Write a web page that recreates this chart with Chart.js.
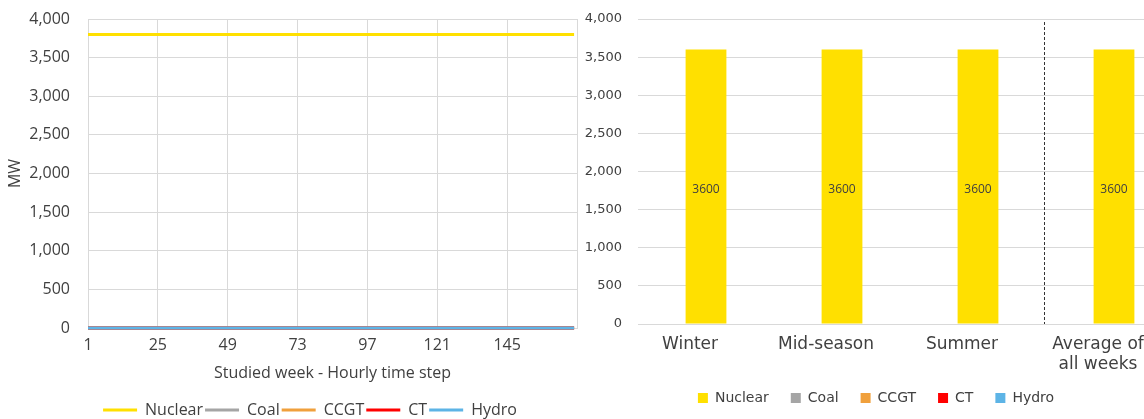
<!DOCTYPE html>
<html>
<head>
<meta charset="utf-8">
<title>Nuclear dispatch</title>
<script src="https://cdn.jsdelivr.net/npm/chart.js@4.4.1/dist/chart.umd.min.js"></script>
<style>
    html, body { margin: 0; padding: 0; background: #fff; }
    #wrap { position: relative; width: 1144px; height: 419px; overflow: hidden; }
    #left-box { position: absolute; left: 0; top: 0; width: 640px; height: 428px; }
    #right-box { position: absolute; left: 570px; top: 0; width: 640px; height: 419px; }
</style>
</head>
<body>
<div id="wrap">
    <div id="left-box"><canvas id="hourly-chart"></canvas></div>
    <div id="right-box"><canvas id="season-chart"></canvas></div>
</div>
<script>
// Hourly x positions of the studied week (1..168) and labelled ticks
const hours = Array.from({ length: 168 }, (_, i) => i + 1);
const hourTicks = [1, 25, 49, 73, 97, 121, 145, 169];

// Hourly output, MW (one row per day)
const nuclearHourly = [
    3800, 3800, 3800, 3800, 3800, 3800, 3800, 3800, 3800, 3800, 3800, 3800, 3800, 3800, 3800, 3800, 3800, 3800, 3800, 3800, 3800, 3800, 3800, 3800,
    3800, 3800, 3800, 3800, 3800, 3800, 3800, 3800, 3800, 3800, 3800, 3800, 3800, 3800, 3800, 3800, 3800, 3800, 3800, 3800, 3800, 3800, 3800, 3800,
    3800, 3800, 3800, 3800, 3800, 3800, 3800, 3800, 3800, 3800, 3800, 3800, 3800, 3800, 3800, 3800, 3800, 3800, 3800, 3800, 3800, 3800, 3800, 3800,
    3800, 3800, 3800, 3800, 3800, 3800, 3800, 3800, 3800, 3800, 3800, 3800, 3800, 3800, 3800, 3800, 3800, 3800, 3800, 3800, 3800, 3800, 3800, 3800,
    3800, 3800, 3800, 3800, 3800, 3800, 3800, 3800, 3800, 3800, 3800, 3800, 3800, 3800, 3800, 3800, 3800, 3800, 3800, 3800, 3800, 3800, 3800, 3800,
    3800, 3800, 3800, 3800, 3800, 3800, 3800, 3800, 3800, 3800, 3800, 3800, 3800, 3800, 3800, 3800, 3800, 3800, 3800, 3800, 3800, 3800, 3800, 3800,
    3800, 3800, 3800, 3800, 3800, 3800, 3800, 3800, 3800, 3800, 3800, 3800, 3800, 3800, 3800, 3800, 3800, 3800, 3800, 3800, 3800, 3800, 3800, 3800
];
const zeroHourly = [
    0, 0, 0, 0, 0, 0, 0, 0, 0, 0, 0, 0, 0, 0, 0, 0, 0, 0, 0, 0, 0, 0, 0, 0,
    0, 0, 0, 0, 0, 0, 0, 0, 0, 0, 0, 0, 0, 0, 0, 0, 0, 0, 0, 0, 0, 0, 0, 0,
    0, 0, 0, 0, 0, 0, 0, 0, 0, 0, 0, 0, 0, 0, 0, 0, 0, 0, 0, 0, 0, 0, 0, 0,
    0, 0, 0, 0, 0, 0, 0, 0, 0, 0, 0, 0, 0, 0, 0, 0, 0, 0, 0, 0, 0, 0, 0, 0,
    0, 0, 0, 0, 0, 0, 0, 0, 0, 0, 0, 0, 0, 0, 0, 0, 0, 0, 0, 0, 0, 0, 0, 0,
    0, 0, 0, 0, 0, 0, 0, 0, 0, 0, 0, 0, 0, 0, 0, 0, 0, 0, 0, 0, 0, 0, 0, 0,
    0, 0, 0, 0, 0, 0, 0, 0, 0, 0, 0, 0, 0, 0, 0, 0, 0, 0, 0, 0, 0, 0, 0, 0
];
const coalHourly = zeroHourly;
const ccgtHourly = zeroHourly;
const ctHourly = zeroHourly;
const hydroHourly = zeroHourly;

// Average output per season, MW
const seasons = ['Winter', 'Mid-season', 'Summer', ['Average of', 'all weeks']];
const nuclearAvg = [3600, 3600, 3600, 3600];
const coalAvg = [0, 0, 0, 0];
const ccgtAvg = [0, 0, 0, 0];
const ctAvg = [0, 0, 0, 0];
const hydroAvg = [0, 0, 0, 0];

const techNames = ['Nuclear', 'Coal', 'CCGT', 'CT', 'Hydro'];
const techColors = ['#FFE000', '#A5A5A5', '#F0A03C', '#FF0000', '#5DB4E6'];

const gridGray = '#D9D9D9';
const textDark = '#404040';
const fmt = v => v.toLocaleString('en-US');

// Hourly line chart
const hourlySeries = [nuclearHourly, coalHourly, ccgtHourly, ctHourly, hydroHourly];
const hourlyFont = { family: 'Open Sans', size: 16 };

new Chart(document.getElementById('hourly-chart'), {
    type: 'line',
    data: {
        labels: hours,
        datasets: hourlySeries.map((data, i) => ({
            label: techNames[i],
            data: data,
            borderColor: techColors[i],
            backgroundColor: techColors[i],
            borderWidth: 3,
            pointRadius: 0,
            tension: 0,
            clip: false,
            // later series are painted over earlier ones, like the original
            order: techNames.length - i
        }))
    },
    options: {
        responsive: true,
        maintainAspectRatio: false,
        animation: false,
        layout: { padding: { left: 0, right: 20, top: 19, bottom: 0 } },
        plugins: {
            tooltip: { enabled: false },
            legend: {
                position: 'bottom',
                labels: {
                    boxWidth: 34,
                    boxHeight: 3,
                    padding: 2,
                    color: textDark,
                    font: hourlyFont,
                    generateLabels: chart => chart.data.datasets.map((ds, i) => ({
                        text: ds.label,
                        fillStyle: ds.borderColor,
                        strokeStyle: ds.borderColor,
                        lineWidth: 0,
                        fontColor: textDark,
                        datasetIndex: i
                    }))
                }
            }
        },
        scales: {
            x: {
                type: 'linear',
                min: 1,
                max: 169,
                afterBuildTicks: scale => { scale.ticks = hourTicks.map(v => ({ value: v })); },
                afterFit: scale => { scale.height = 72; },
                grid: { color: gridGray, drawTicks: false },
                border: { color: gridGray },
                ticks: {
                    padding: 8,
                    autoSkip: false,
                    maxRotation: 0,
                    color: textDark,
                    font: hourlyFont,
                    callback: v => (v === 169 ? '' : v)
                },
                title: {
                    display: true,
                    text: 'Studied week - Hourly time step',
                    color: textDark,
                    font: hourlyFont,
                    padding: { top: 4, bottom: 17 }
                }
            },
            y: {
                min: 0,
                max: 4000,
                afterFit: scale => { scale.width = 88; },
                grid: { color: gridGray, tickLength: 9, tickColor: 'rgba(0,0,0,0)' },
                border: { color: gridGray },
                ticks: { stepSize: 500, padding: 9, color: textDark, font: hourlyFont, callback: fmt },
                title: { display: true, text: 'MW', color: textDark, font: hourlyFont, padding: { top: 6, bottom: 0 } }
            },
            // empty box on the right so the legend sits where the original does
            pad: {
                position: 'right',
                grid: { display: false },
                border: { display: false },
                ticks: { display: false },
                afterFit: scale => { scale.width = 43; }
            }
        }
    }
});

// Seasonal bar chart
const seasonSeries = [nuclearAvg, coalAvg, ccgtAvg, ctAvg, hydroAvg];

const barValueLabels = {
    id: 'barValueLabels',
    afterDatasetsDraw(chart) {
        const ctx = chart.ctx;
        chart.data.datasets.forEach((ds, i) => {
            chart.getDatasetMeta(i).data.forEach((bar, j) => {
                const v = ds.data[j];
                if (!v) return;
                ctx.save();
                ctx.font = '12px "Open Sans"';
                ctx.fillStyle = textDark;
                ctx.textAlign = 'center';
                ctx.textBaseline = 'middle';
                ctx.fillText(v, bar.x, (bar.y + bar.base) / 2 + 3);
                ctx.restore();
            });
        });
    }
};

const seasonDivider = {
    id: 'seasonDivider',
    afterDatasetsDraw(chart) {
        const ctx = chart.ctx;
        const area = chart.chartArea;
        const x = Math.round(chart.scales.x.getPixelForValue(2.5)) - 1.5;
        ctx.save();
        ctx.strokeStyle = '#333';
        ctx.lineWidth = 1;
        ctx.setLineDash([3, 2]);
        ctx.beginPath();
        ctx.moveTo(x, area.top + 3);
        ctx.lineTo(x, area.bottom);
        ctx.stroke();
        ctx.restore();
    }
};

new Chart(document.getElementById('season-chart'), {
    type: 'bar',
    data: {
        labels: seasons,
        datasets: seasonSeries.map((data, i) => ({
            label: techNames[i],
            data: data,
            backgroundColor: techColors[i],
            borderWidth: 0,
            barPercentage: 0.3,
            categoryPercentage: 1
        }))
    },
    options: {
        responsive: true,
        maintainAspectRatio: false,
        animation: false,
        layout: { padding: { left: 0, right: 28, top: 19, bottom: 4 } },
        plugins: {
            tooltip: { enabled: false },
            legend: {
                position: 'bottom',
                labels: {
                    boxWidth: 10,
                    boxHeight: 10,
                    padding: 22,
                    color: textDark,
                    font: { family: 'DejaVu Sans', size: 14 }
                }
            }
        },
        scales: {
            x: {
                stacked: true,
                afterFit: scale => { scale.height = 45; },
                grid: { display: false },
                border: { color: gridGray },
                ticks: {
                    padding: 2,
                    labelOffset: -16,
                    autoSkip: false,
                    maxRotation: 0,
                    color: textDark,
                    font: { family: 'DejaVu Sans', size: 17 }
                }
            },
            y: {
                stacked: true,
                min: 0,
                max: 4000,
                afterFit: scale => { scale.width = 68; },
                grid: { color: gridGray, tickLength: 10, tickColor: 'rgba(0,0,0,0)' },
                border: { display: false },
                ticks: {
                    stepSize: 500,
                    padding: 6,
                    color: textDark,
                    font: { family: 'DejaVu Sans', size: 13 },
                    callback: fmt
                }
            }
        }
    },
    plugins: [barValueLabels, seasonDivider]
});
</script>
</body>
</html>
